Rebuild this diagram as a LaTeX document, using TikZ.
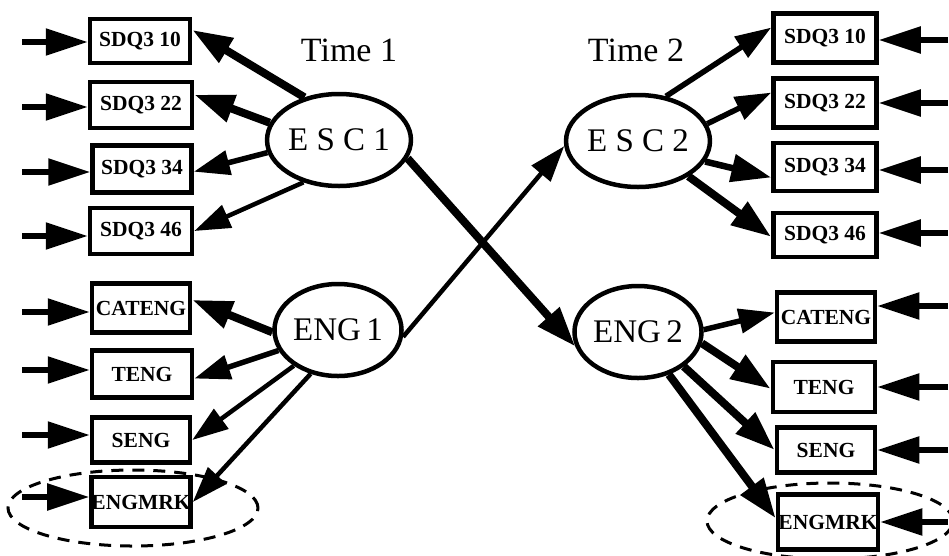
\documentclass[tikz,border=0pt]{standalone}
\usepackage{fontspec}
\setmainfont{Liberation Serif}
\usetikzlibrary{arrows.meta,shapes.geometric}

\tikzset{
  obsbox/.style={draw, line width=4.5pt, fill=white, inner sep=0pt,
    font=\bfseries\fontsize{21.5}{21.5}\selectfont},
  latent/.style={draw, ellipse, line width=4.5pt, fill=white, inner sep=0pt,
    minimum width=127pt, minimum height=92pt,
    font=\fontsize{33}{33}\selectfont},
  timelabel/.style={font=\fontsize{34}{34}\selectfont, inner sep=0pt},
  bighead/.style={-{Triangle[length=40pt,width=27pt]}},
  smallhead/.style={-{Triangle[length=36pt,width=24pt]}},
  load1/.style={bighead, line width=8pt},
  load2/.style={bighead, line width=6.5pt},
  load3/.style={smallhead, line width=5.5pt},
  load4/.style={smallhead, line width=4.5pt},
  errarrow/.style={-{Triangle[length=42pt,width=26pt]}, line width=5.5pt},
  groupring/.style={draw, line width=3pt, dash pattern=on 12pt off 9pt},
}

\begin{document}
\begin{tikzpicture}[x=1pt, y=-1pt]
\useasboundingbox (0,0) rectangle (949,555);

% grouping rings around the marks indicators
\draw[groupring] (133,508) ellipse [x radius=125pt, y radius=38pt];
\draw[groupring] (830,521) ellipse [x radius=123pt, y radius=38pt];

% time headings
\node[timelabel] (t1) at (349,50) {Time 1};
\node[timelabel] (t2) at (636,50) {Time 2};

% latent factors
\node[latent] (esc1) at (339,140) {E S C 1};
\node[latent] (eng1) at (338,330) {ENG\,1};
\node[latent] (esc2) at (638,141) {E S C 2};
\node[latent] (eng2) at (638,332) {ENG\,2};

% indicators, time 1
\node[obsbox, minimum width=100pt, minimum height=44pt] (L10)   at (140,41)  {SDQ3 10};
\node[obsbox, minimum width=102pt, minimum height=46pt] (L22)   at (141,105) {SDQ3 22};
\node[obsbox, minimum width=99pt,  minimum height=47pt] (L34)   at (142,169) {SDQ3 34};
\node[obsbox, minimum width=102pt, minimum height=46pt] (L46)   at (141,231) {SDQ3 46};
\node[obsbox, minimum width=98pt,  minimum height=49pt] (LCAT)  at (141,308) {CATENG};
\node[obsbox, minimum width=100pt, minimum height=47pt] (LTENG) at (142,374) {TENG};
\node[obsbox, minimum width=98pt,  minimum height=45pt] (LSENG) at (141,440) {SENG};
\node[obsbox, minimum width=98pt,  minimum height=50pt] (LMRK)  at (141,502) {ENGMRK};

% indicators, time 2
\node[obsbox, minimum width=103pt, minimum height=49pt] (R10)   at (825,38)  {SDQ3 10};
\node[obsbox, minimum width=103pt, minimum height=49pt] (R22)   at (825,103) {SDQ3 22};
\node[obsbox, minimum width=103pt, minimum height=48pt] (R34)   at (825,167) {SDQ3 34};
\node[obsbox, minimum width=103pt, minimum height=44pt] (R46)   at (825,235) {SDQ3 46};
\node[obsbox, minimum width=98pt,  minimum height=49pt] (RCAT)  at (826,317) {CATENG};
\node[obsbox, minimum width=102pt, minimum height=50pt] (RTENG) at (824,387) {TENG};
\node[obsbox, minimum width=98pt,  minimum height=45pt] (RSENG) at (826,450) {SENG};
\node[obsbox, minimum width=100pt, minimum height=55pt] (RMRK)  at (828,522) {ENGMRK};

% loadings, time 1
\draw[load1] (esc1.129) -- (L10.12);
\draw[load1] (esc1.166) -- (L22.11);
\draw[load3] (esc1.190) -- (L34.357);
\draw[load4] (esc1.230) -- (L46.east);
\draw[load1] (eng1.182) -- (LCAT.9);
\draw[load3] (eng1.199) -- (LTENG.355);
\draw[load4] (eng1.219) -- (LSENG.east);
\draw[load4] (eng1.238) -- (LMRK.east);

% cross-lagged paths
\draw[load1] (esc1.345) -- (eng2.193);
\draw[load4] (eng1.354) -- (esc2.184);

% loadings, time 2
\draw[load3] (esc2.58)  -- (R10.169);
\draw[load3] (esc2.14)  -- (R22.169);
\draw[load2] (esc2.343) -- (R34.191);
\draw[load1] (esc2.325) -- (R46.182);
\draw[load3] (eng2.2)   -- (RCAT.175);
\draw[load1] (eng2.350) -- (RTENG.182);
\draw[load1] (eng2.323) -- (RSENG.west);
\draw[load1] (eng2.306) -- (RMRK.176);

% residual terms, time 1
\coordinate (eL10)   at (22,42);
\coordinate (eL22)   at (22,107);
\coordinate (eL34)   at (22,172);
\coordinate (eL46)   at (22,236);
\coordinate (eLCAT)  at (22,312);
\coordinate (eLTENG) at (22,370);
\coordinate (eLSENG) at (22,435);
\coordinate (eLMRK)  at (22,497);
\foreach \n in {L10,L22,L34,L46,LCAT,LTENG,LSENG,LMRK}
  \draw[errarrow] (e\n) -- (e\n -| \n.west);

% residual terms, time 2
\coordinate (eR10)   at (948,40);
\coordinate (eR22)   at (948,103);
\coordinate (eR34)   at (948,170);
\coordinate (eR46)   at (948,233);
\coordinate (eRCAT)  at (948,306);
\coordinate (eRTENG) at (948,387);
\coordinate (eRSENG) at (948,450);
\coordinate (eRMRK)  at (948,522);
\foreach \n in {R10,R22,R34,R46,RCAT,RTENG,RSENG,RMRK}
  \draw[errarrow] (e\n) -- (e\n -| \n.east);
\end{tikzpicture}
\end{document}
